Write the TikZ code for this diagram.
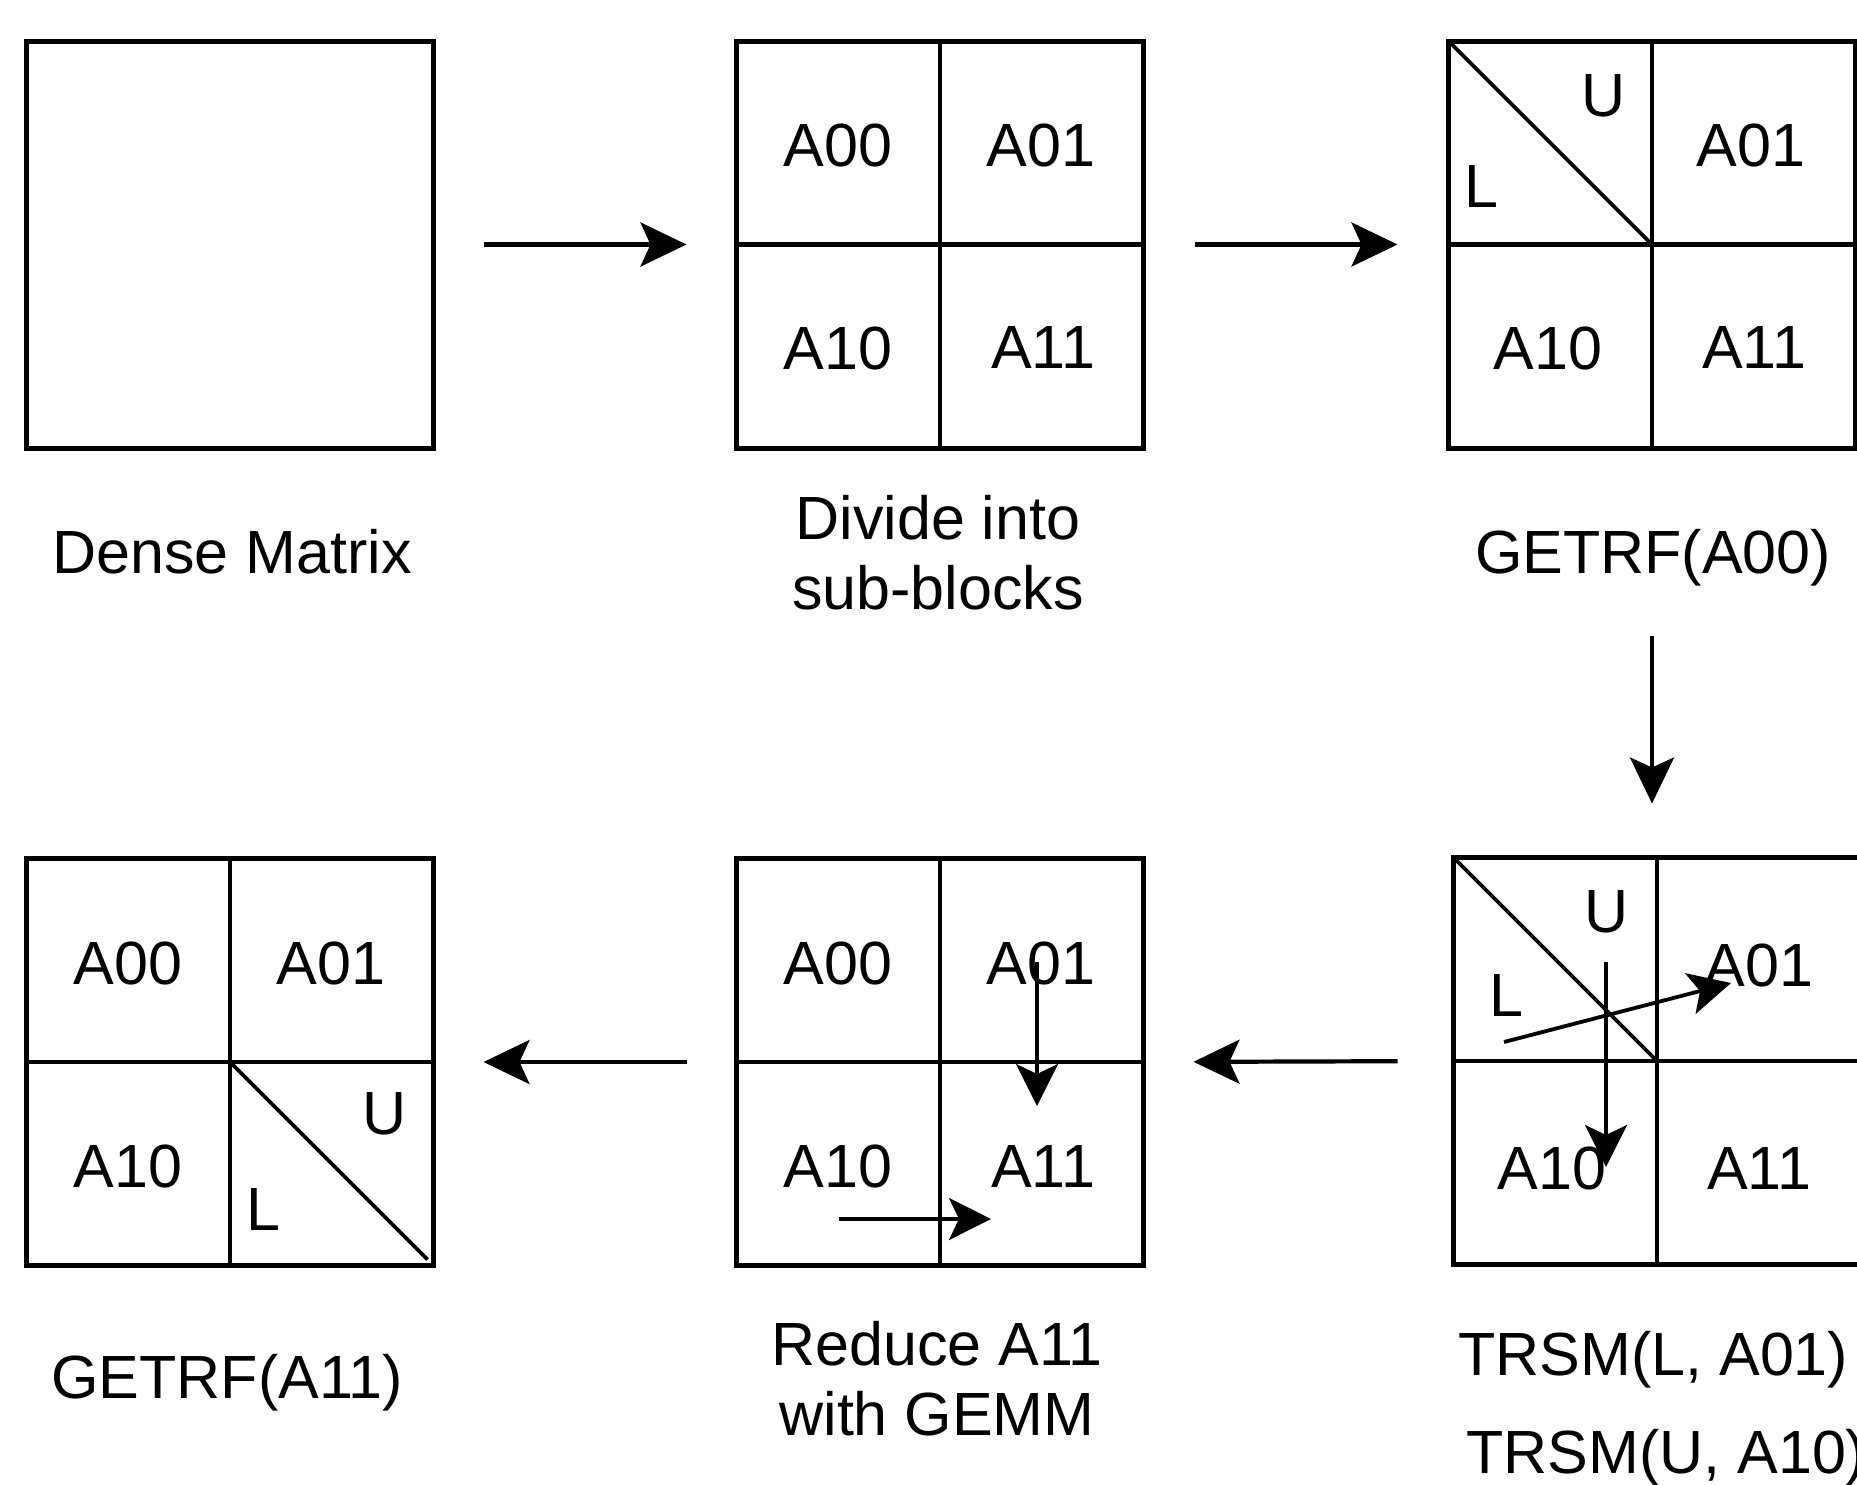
\documentclass[tikz,border=0pt]{standalone}
\usepackage{fontspec}
\setmainfont{Liberation Sans}
\usetikzlibrary{arrows.meta}
\begin{document}
\begin{tikzpicture}[x=0.5pt,y=-0.5pt,
  mat/.style={draw,line width=2.5pt,minimum width=203.5pt,minimum height=203.5pt,inner sep=0pt,outer sep=0pt},
  lbl/.style={font=\fontsize{30.5}{35}\selectfont,inner sep=0pt},
  captxt/.style={lbl,align=center},
  gridline/.style={line width=2.2pt},
  diag/.style={line width=1.9pt},
  arr/.style={line width=2.1pt,-{Stealth[length=23pt,width=22pt,inset=5pt]}},
  iarr/.style={line width=1.9pt,-{Stealth[length=21pt,width=21pt,inset=5pt]}},
]
\useasboundingbox (0,0) rectangle (1857,1484);
\clip (0,0) rectangle (1857,1484);

% ---------- matrices ----------
\node[mat] (m1) at (230,244.5) {};
\node[mat] (m2) at (940,244.5) {};
\node[mat] (m3) at (1652,244.5) {};
\node[mat] (m4) at (230,1062) {};
\node[mat] (m5) at (940,1062) {};
\node[mat] (m6) at (1657,1061) {};

% grid lines
\foreach \m in {m2,m3,m4,m5,m6}{
  \draw[gridline] (\m.north) -- (\m.south);
  \draw[gridline] (\m.west) -- (\m.east);
}

% diagonals
\draw[diag] (m3.north west) -- (m3.center);
\draw[diag] (m6.north west) -- (m6.center);
\draw[diag] (m4.center) -- ([shift={(-6,-6)}]m4.south east);

% ---------- cell labels ----------
\node[lbl] (m2a) at (838,145) {A00};
\node[lbl] (m2b) at (1041,145) {A01};
\node[lbl] (m2c) at (838,348) {A10};
\node[lbl] (m2d) at (1043,348) {A11};

\node[lbl] (m3u) at (1604,96) {U};
\node[lbl] (m3l) at (1481,187) {L};
\node[lbl] (m3b) at (1751,145) {A01};
\node[lbl] (m3c) at (1548,348) {A10};
\node[lbl] (m3d) at (1754,348) {A11};

\node[lbl] (m4a) at (128,963) {A00};
\node[lbl] (m4b) at (331,963) {A01};
\node[lbl] (m4c) at (128,1166) {A10};
\node[lbl] (m4u) at (385,1114) {U};
\node[lbl] (m4l) at (263,1209) {L};

\node[lbl] (m5a) at (838,963) {A00};
\node[lbl] (m5b) at (1041,963) {A01};
\node[lbl] (m5c) at (838,1166) {A10};
\node[lbl] (m5d) at (1043,1166) {A11};

\node[lbl] (m6u) at (1607,912) {U};
\node[lbl] (m6l) at (1506,995) {L};
\node[lbl] (m6b) at (1759,965) {A01};
\node[lbl] (m6c) at (1552,1168) {A10};
\node[lbl] (m6d) at (1759,1168) {A11};

% ---------- captions ----------
\node[captxt] (c1) at (232,552) {Dense Matrix};
\node[captxt] (c2) at (938,553) {Divide into\\sub-blocks};
\node[captxt] (c3) at (1653,558) {GETRF(A00)};
\node[captxt] (c4) at (227,1383) {GETRF(A11)};
\node[captxt] (c5) at (937,1379) {Reduce A11\\with GEMM};
\node[captxt,anchor=west] (c6a) at (1458,1360) {TRSM(L, A01)};
\node[captxt,anchor=west] (c6b) at (1466,1458) {TRSM(U, A10)};

% ---------- main arrows ----------
\draw[arr,shorten <=25pt,shorten >=25pt] (m1.east) -- (m2.west);
\draw[arr,shorten <=25.5pt,shorten >=25.5pt] (m2.east) -- (m3.west);
\draw[arr,shorten <=94pt,shorten >=27pt] (m3.south) -- (m3.south |- m6.north);
\draw[arr,shorten <=28pt,shorten >=25pt] (m6.west) -- (m5.east);
\draw[arr,shorten <=25pt,shorten >=25pt] (m5.west) -- (m4.east);

% ---------- inner arrows ----------
\coordinate (v1s) at (1037,962);
\coordinate (v1e) at (1037,1106);
\coordinate (h1s) at (839,1219);
\coordinate (h1e) at (991,1219);
\draw[iarr] (v1s) -- (v1e);
\draw[iarr] (h1s) -- (h1e);

\coordinate (d2s) at (1504,1042);
\coordinate (d2e) at (1731,983);
\coordinate (v2s) at (1606,962);
\coordinate (v2e) at (1606,1167);
\draw[iarr] (d2s) -- (d2e);
\draw[iarr] (v2s) -- (v2e);
\end{tikzpicture}
\end{document}
